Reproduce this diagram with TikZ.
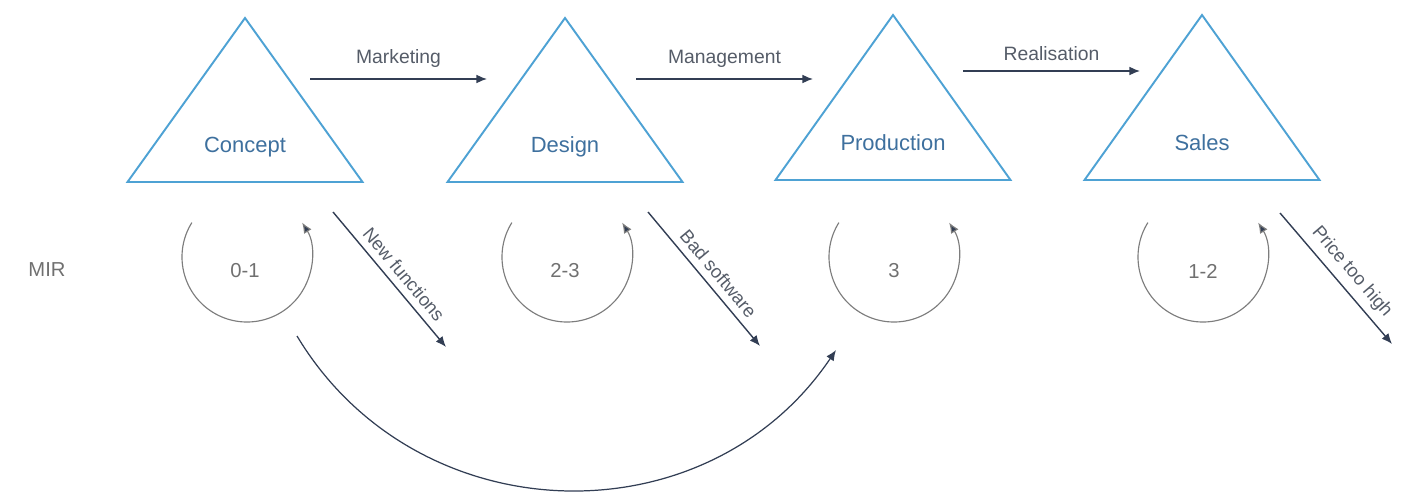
\documentclass[tikz,border=0pt]{standalone}
\usepackage{fontspec}
\setmainfont{Liberation Sans}
\usepackage{xcolor}
\usepackage{tikz}
\usetikzlibrary{positioning, arrows.meta}
\definecolor{edgeblue}{RGB}{78,162,212}
\definecolor{textblue}{RGB}{62,112,158}
\definecolor{arrowdark}{RGB}{50,62,84}
\definecolor{labelgray}{RGB}{85,92,104}
\definecolor{loopgray}{RGB}{125,125,125}

\begin{document}
\begin{tikzpicture}
\tikzstyle{phase}     = [draw=edgeblue, line width=1.1pt, line join=miter]
\tikzstyle{phasetext} = [text=textblue, font=\fontsize{12.5}{14}\selectfont]
\tikzstyle{flow}      = [-{Latex[length=6pt, width=5pt]}, line width=0.8pt, draw=arrowdark]
\tikzstyle{flowtext}  = [text=labelgray, font=\fontsize{11}{13}\selectfont]
\tikzstyle{slanttext} = [text=labelgray, font=\fontsize{10.5}{12}\selectfont, inner sep=1pt]
\tikzstyle{rework}    = [-{Latex[length=6pt, width=5pt, fill=arrowdark]}, line width=0.65pt, draw=loopgray]
\tikzstyle{mirtext}   = [text=loopgray!90!black, font=\fontsize{11.5}{13}\selectfont]
\useasboundingbox (0,0) rectangle (28.30,-9.90);
\draw[phase] (4.90,-0.36) -- (7.25,-3.64) -- (2.55,-3.64) -- cycle;
\draw[phase] (11.30,-0.36) -- (13.65,-3.64) -- (8.95,-3.64) -- cycle;
\draw[phase] (17.86,-0.30) -- (20.21,-3.60) -- (15.51,-3.60) -- cycle;
\draw[phase] (24.04,-0.30) -- (26.39,-3.60) -- (21.69,-3.60) -- cycle;
\node[phasetext] at (4.90,-2.94)  (concept){Concept};
\node[phasetext] at (11.30,-2.94) (design){Design};
\node[phasetext] at (17.86,-2.86) (production){Production};
\node[phasetext] at (24.04,-2.86) (sales){Sales};
\coordinate (mk_s) at (6.20,-1.58);
\coordinate (mk_e) at (9.74,-1.58);
\coordinate (mg_s) at (12.72,-1.58);
\coordinate (mg_e) at (16.26,-1.58);
\coordinate (rl_s) at (19.26,-1.42);
\coordinate (rl_e) at (22.80,-1.42);
\draw[flow] (mk_s) -- (mk_e) node[flowtext, above=3pt, midway] {Marketing};
\draw[flow] (mg_s) -- (mg_e) node[flowtext, above=3pt, midway] {Management};
\draw[flow] (rl_s) -- (rl_e) node[flowtext, above=2pt, midway] {Realisation};
\coordinate (nf_s) at (6.66,-4.24);
\coordinate (nf_e) at (8.92,-6.94);
\coordinate (bs_s) at (12.96,-4.24);
\coordinate (bs_e) at (15.20,-6.92);
\coordinate (ph_s) at (25.60,-4.26);
\coordinate (ph_e) at (27.84,-6.88);
\draw[flow] (nf_s) -- (nf_e) node[slanttext, sloped, above=3pt, pos=0.53] {New functions};
\draw[flow] (bs_s) -- (bs_e) node[slanttext, sloped, above=3pt, pos=0.53] {Bad software};
\draw[flow] (ph_s) -- (ph_e) node[slanttext, sloped, above=3pt, pos=0.53] {Price too high};
\node[mirtext] at (0.94,-5.40) (mir){MIR};
\node[mirtext] at (4.90,-5.42)  (mir_c){0-1};
\node[mirtext] at (11.30,-5.42) (mir_d){2-3};
\node[mirtext] at (17.88,-5.42) (mir_p){3};
\node[mirtext] at (24.06,-5.42) (mir_s){1-2};
\coordinate (c_c) at (4.94,-5.14);
\coordinate (c_d) at (11.34,-5.14);
\coordinate (c_p) at (17.88,-5.14);
\coordinate (c_s) at (24.06,-5.14);
\draw[rework] ([shift={(148:1.30)}]c_c) arc[start angle=148, end angle=392, radius=1.30];
\draw[rework] ([shift={(148:1.30)}]c_d) arc[start angle=148, end angle=392, radius=1.30];
\draw[rework] ([shift={(148:1.30)}]c_p) arc[start angle=148, end angle=392, radius=1.30];
\draw[rework] ([shift={(148:1.30)}]c_s) arc[start angle=148, end angle=392, radius=1.30];
\coordinate (skip_s) at (5.94,-6.72);
\coordinate (skip_e) at (16.72,-7.00);
\draw[flow, line width=0.7pt] (skip_s) to[out=-59, in=-124, looseness=1.1] (skip_e);
\end{tikzpicture}
\end{document}
